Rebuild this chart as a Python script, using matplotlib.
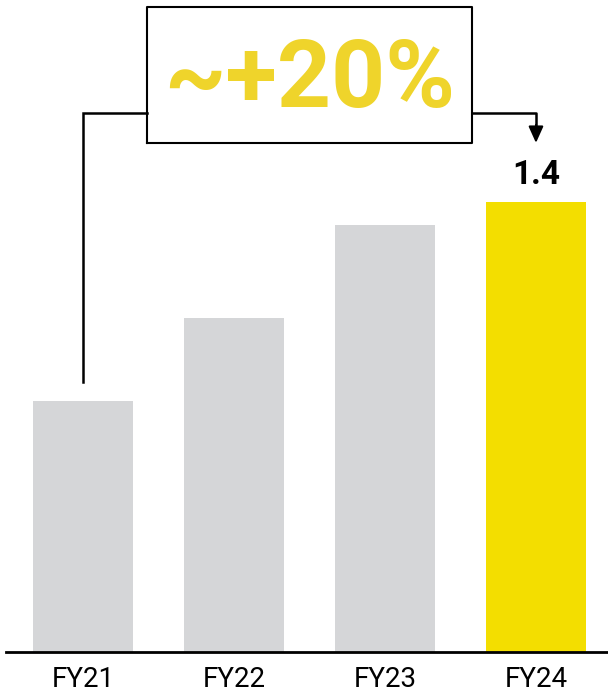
import matplotlib.pyplot as plt

# data
years = ["FY21", "FY22", "FY23", "FY24"]
values = [0.78, 1.04, 1.33, 1.4]
bar_colors = ["#d5d6d8", "#d5d6d8", "#d5d6d8", "#f3de00"]
growth_label = "~+20%"
last_label = "1.4"

plt.rcParams['font.family'] = ['Roboto', 'DejaVu Sans']

fig = plt.figure(figsize=(6.08, 6.95), dpi=100)
ax = fig.add_axes([6 / 608, 43 / 695, 602 / 608, 652 / 695])

x = list(range(len(years)))
ax.bar(x, values, width=0.66, color=bar_colors)
ax.set_xlim(-0.51, 3.477)
ax.set_ylim(0, 2.0286)

for s in ["top", "left", "right"]:
    ax.spines[s].set_visible(False)
ax.spines["bottom"].set_linewidth(2)
ax.set_yticks([])
ax.set_xticks(x)
ax.set_xticklabels(years, fontsize=20)
ax.tick_params(axis="x", length=0, pad=10)

# value label on the last bar
ax.text(x[-1], values[-1] + 0.085, last_label, ha="center", va="center",
        fontsize=24, fontweight="bold", color="black")

# growth box with connector
box_y0, box_y1 = 1.584, 2.007
conn_y = 1.677
ax.plot([x[0], x[0], 0.424], [values[0] + 0.06, conn_y, conn_y],
        color="black", lw=1.8, clip_on=False, solid_joinstyle="miter")
ax.plot([0.424, 2.576, 2.576, 0.424, 0.424], [box_y0, box_y0, box_y1, box_y1, box_y0],
        color="black", lw=1.5, clip_on=False)
ax.plot([2.576, x[-1], x[-1]], [conn_y, conn_y, 1.63],
        color="black", lw=1.8, clip_on=False)
ax.annotate("", xy=(x[-1], 1.584), xytext=(x[-1], 1.64),
            arrowprops=dict(arrowstyle="-|>,head_length=1.0,head_width=0.45",
                            color="black", lw=1.5, shrinkA=0, shrinkB=0))
ax.text(1.5, (box_y0 + box_y1) / 2 - 0.02, growth_label, ha="center", va="center",
        fontsize=68, fontweight="bold", color="#efd42b")

fig.savefig("out.png", dpi=100)
